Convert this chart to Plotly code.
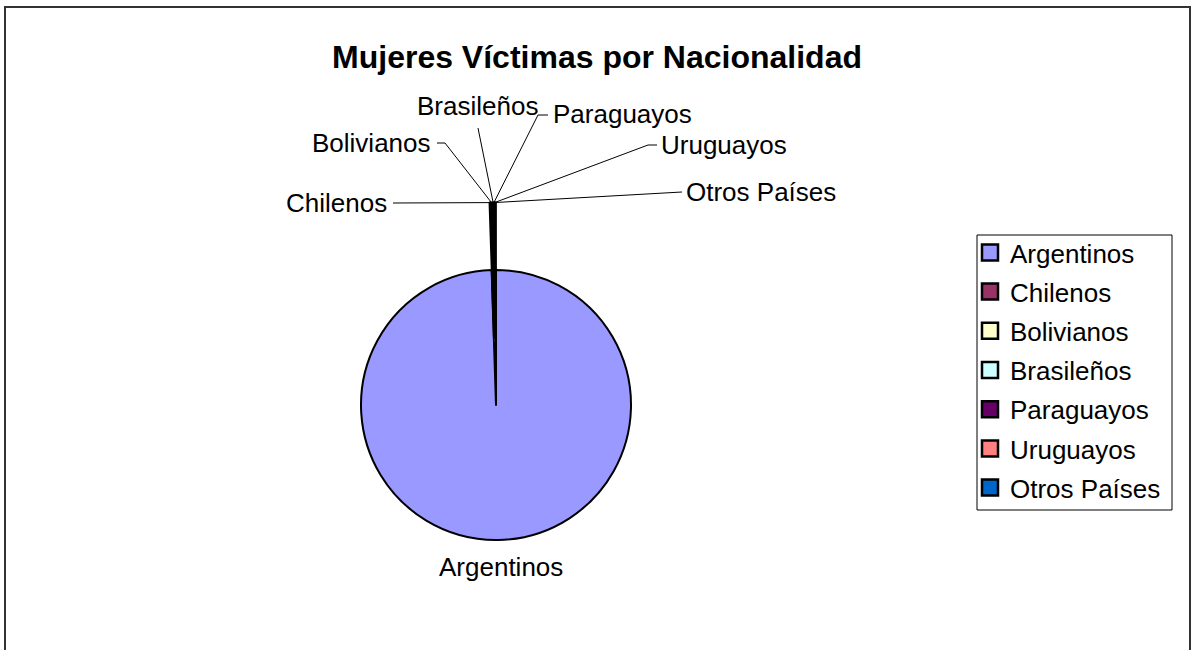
import math
import plotly.graph_objects as go

# ---- data ----
categories = ["Argentinos", "Chilenos", "Bolivianos", "Brasileños", "Paraguayos", "Uruguayos", "Otros Países"]
values = [1540, 1, 3, 1, 1, 1, 1]
colors = ["#9999FF", "#993366", "#FFFFCC", "#CCFFFF", "#660066", "#FF8080", "#0066CC"]
pulls = [0, 0.5, 0.5, 0.5, 0.5, 0.5, 0.5]
title_text = "Mujeres Víctimas por Nacionalidad"

W, H = 1191, 650
FONT = "Liberation Sans, Arial, sans-serif"

# pie geometry (pixels)
cx, cy, r = 496, 405, 135
half = r * (1 + max(pulls))
dom_x = [(cx - half) / W, (cx + half) / W]
dom_y = [1 - (cy + half) / H, 1 - (cy - half) / H]

def px(x, y):
    return x / W, 1 - y / H

fig = go.Figure()
fig.add_trace(go.Pie(
    labels=categories, values=values, sort=False, direction="clockwise", rotation=0,
    pull=pulls, marker=dict(colors=colors, line=dict(color="black", width=2)),
    textinfo="none", hoverinfo="label+value+percent", showlegend=False,
    domain=dict(x=dom_x, y=dom_y),
))

# legend entries (data-driven from categories / colors)
for name, col in zip(categories, colors):
    fig.add_trace(go.Scatter(
        x=[None], y=[None], mode="markers", name=name, legendgroup=name,
        marker=dict(symbol="square", size=16, color=col, line=dict(color="black", width=2.5)),
    ))

# slice mid-angles for leader-line tips
total = sum(values)
tips = {}
cum = 0
for name, v, p in zip(categories, values, pulls):
    theta = 2 * math.pi * (cum + v / 2) / total
    R = r * (1 + p)
    tips[name] = (cx + R * math.sin(theta), cy - R * math.cos(theta))
    cum += v

# label text placement (px) and leader-line elbows (px)
label_pos = {
    "Chilenos": (389, 203, "right"),
    "Bolivianos": (433, 143, "right"),
    "Brasileños": (477, 106, "center"),
    "Paraguayos": (551, 114, "left"),
    "Uruguayos": (659, 145, "left"),
    "Otros Países": (684, 192, "left"),
    "Argentinos": (501, 567, "center"),
}
leader = {
    "Chilenos": [(393, 203)],
    "Bolivianos": [(437, 143), (445, 143)],
    "Brasileños": [(478, 128)],
    "Paraguayos": [(548, 115), (538, 115)],
    "Uruguayos": [(657, 145), (648, 145)],
    "Otros Países": [(682, 192)],
}

annotations = []
for name, (x, y, anc) in label_pos.items():
    ax, ay = px(x, y)
    annotations.append(dict(x=ax, y=ay, xref="paper", yref="paper", text=name, showarrow=False,
                            xanchor=anc, yanchor="middle", font=dict(family=FONT, size=26, color="black")))

shapes = []
for name, pts in leader.items():
    tx, ty = tips[name]
    path_pts = pts + [(tx, ty)]
    for (x0, y0), (x1, y1) in zip(path_pts[:-1], path_pts[1:]):
        a0, b0 = px(x0, y0)
        a1, b1 = px(x1, y1)
        shapes.append(dict(type="line", xref="paper", yref="paper", x0=a0, y0=b0, x1=a1, y1=b1,
                           line=dict(color="black", width=1)))

# outer chart frame
fx0, fy0 = px(5, 7)
fx1, fy1 = px(1190, 700)
shapes.append(dict(type="rect", xref="paper", yref="paper", x0=fx0, y0=fy1, x1=fx1, y1=fy0,
                   line=dict(color="#333333", width=2), layer="below"))

# legend box
bx0, by0 = px(977, 235)
bx1, by1 = px(1172, 510)
shapes.append(dict(type="rect", xref="paper", yref="paper", x0=bx0, y0=by1, x1=bx1, y1=by0,
                   line=dict(color="black", width=1), fillcolor="white", layer="below"))

lx, ly = px(970, 229)
fig.update_layout(
    width=W, height=H, margin=dict(l=0, r=0, t=0, b=0),
    paper_bgcolor="white", plot_bgcolor="rgba(0,0,0,0)",
    title=dict(text="<b>" + title_text + "</b>", x=597 / W, xanchor="center", y=1 - 57 / H, yanchor="middle",
               font=dict(family=FONT, size=32, color="black")),
    xaxis=dict(visible=False), yaxis=dict(visible=False),
    showlegend=True,
    legend=dict(x=lx, y=ly, xanchor="left", yanchor="top", bgcolor="rgba(0,0,0,0)", borderwidth=0,
                font=dict(family=FONT, size=26, color="black"), traceorder="grouped", tracegroupgap=2.4),
    annotations=annotations, shapes=shapes,
)

fig.write_html("out.html", config={"displayModeBar": False},
               post_script="document.body.style.margin='0';")
